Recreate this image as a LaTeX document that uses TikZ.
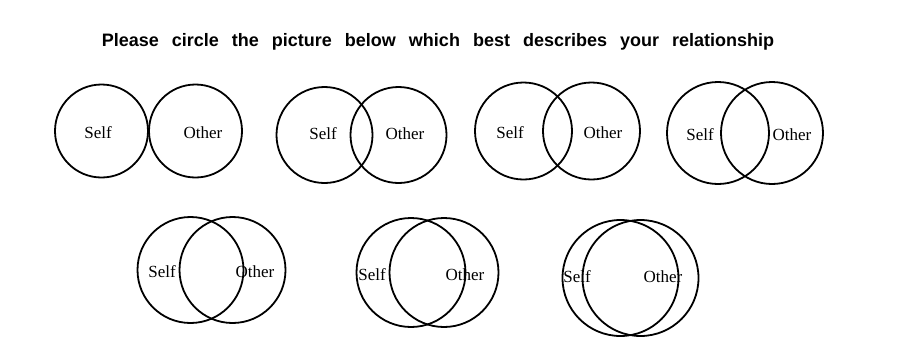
\documentclass[tikz,border=0pt]{standalone}
\usepackage{fontspec}
\setmainfont{Liberation Serif}
\newfontfamily\headfont[WordSpace=2.6]{Liberation Sans}
\usetikzlibrary{positioning}

\begin{document}
\begin{tikzpicture}[x=1pt, y=-1pt,
    ring/.style={draw, circle, line width=1.8pt, inner sep=0pt},
    lbl/.style={font=\fontsize{17}{17}\selectfont, inner sep=0pt}]
  \useasboundingbox (0,0) rectangle (898,338);

  \node[font=\headfont\bfseries\fontsize{18}{20}\selectfont, anchor=base, inner sep=0pt] (title) at (438,46)
    {Please circle the picture below which best describes your relationship};

  % first row
  \node[ring, minimum size=93pt] (self1) at (101.5,131) {};
  \node[ring, minimum size=93pt] (other1) at (195.5,131) {};
  \node[lbl] (s1) at (98,133) {Self};
  \node[lbl] (o1) at (203,133) {Other};

  \node[ring, minimum size=96pt] (self2) at (324.5,135) {};
  \node[ring, minimum size=96pt] (other2) at (398.5,135) {};
  \node[lbl] (s2) at (323,134) {Self};
  \node[lbl] (o2) at (405,134) {Other};

  \node[ring, minimum size=97pt] (self3) at (523.5,131) {};
  \node[ring, minimum size=97pt] (other3) at (591.5,131) {};
  \node[lbl] (s3) at (510,133) {Self};
  \node[lbl] (o3) at (603,133) {Other};

  \node[ring, minimum size=102pt] (self4) at (718,133) {};
  \node[ring, minimum size=102pt] (other4) at (772,133) {};
  \node[lbl] (s4) at (700,135) {Self};
  \node[lbl] (o4) at (792,135) {Other};

  % second row
  \node[ring, minimum size=106pt] (self5) at (190.5,270) {};
  \node[ring, minimum size=106pt] (other5) at (232.5,270) {};
  \node[lbl] (s5) at (162,272) {Self};
  \node[lbl] (o5) at (255,272) {Other};

  \node[ring, minimum size=109pt] (self6) at (411,272.5) {};
  \node[ring, minimum size=109pt] (other6) at (444,272.5) {};
  \node[lbl] (s6) at (372,275) {Self};
  \node[lbl] (o6) at (465,275) {Other};

  \node[ring, minimum size=116pt] (self7) at (620.5,278) {};
  \node[ring, minimum size=116pt] (other7) at (640.5,278) {};
  \node[lbl] (s7) at (577,277) {Self};
  \node[lbl] (o7) at (663,277) {Other};
\end{tikzpicture}
\end{document}
